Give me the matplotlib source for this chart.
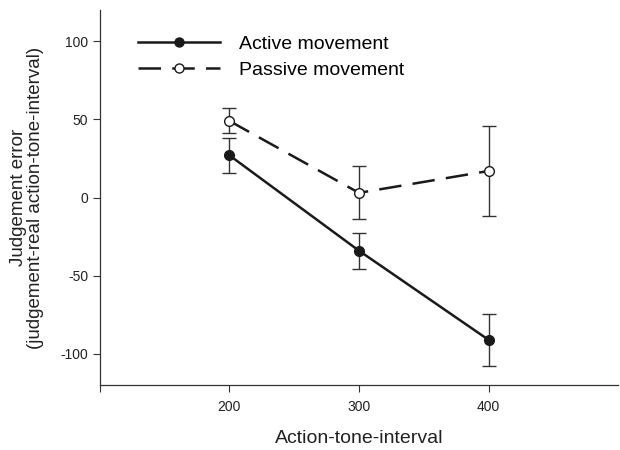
import matplotlib.pyplot as plt
from matplotlib.lines import Line2D

plt.rcParams['font.family'] = ['Liberation Sans', 'DejaVu Sans']
plt.rcParams['axes.unicode_minus'] = False

intervals = [200, 300, 400]
active_mean = [27, -34, -91]
active_err = [11, 11.5, 16.5]
passive_mean = [49, 3, 17]
passive_err = [8, 17, 29]

fig = plt.figure(figsize=(6.2, 4.5), dpi=100)
ax = fig.add_axes([0.161, 0.144, 0.836, 0.834])

ax.errorbar(intervals, active_mean, yerr=active_err, color='#1a1a1a', lw=1.8,
            marker='o', ms=7, mfc='#1a1a1a', mec='#1a1a1a',
            ecolor='#333333', elinewidth=1, capsize=5, capthick=1)
ax.errorbar(intervals, passive_mean, yerr=passive_err, color='#1a1a1a', lw=1.8,
            dashes=(9, 4.5), marker='o', ms=7, mfc='white', mec='#1a1a1a',
            ecolor='#333333', elinewidth=1, capsize=5, capthick=1)

ax.set_xlim(100, 500)
ax.set_ylim(-120, 120)
ax.set_xticks([100, 200, 300, 400])
ax.set_xticklabels(['', '200', '300', '400'])
ax.set_yticks([-100, -50, 0, 50, 100])
ax.tick_params(labelsize=10, length=5, width=0.8, color='#333333', labelcolor='#222222')
ax.tick_params(axis='x', pad=6)
for s in ['top', 'right']:
    ax.spines[s].set_visible(False)
for s in ['left', 'bottom']:
    ax.spines[s].set_linewidth(0.9)
    ax.spines[s].set_color('#333333')

ax.set_xlabel('Action-tone-interval', fontsize=14, labelpad=11, color='#222222')
ax.set_ylabel('Judgement error\n(judgement-real action-tone-interval)', fontsize=13.5,
              labelpad=12, color='#222222', linespacing=1.0)

handles = [
    Line2D([], [], color='#1a1a1a', lw=1.8, marker='o', ms=6.5, mfc='#1a1a1a', mec='#1a1a1a'),
    Line2D([], [], color='#1a1a1a', lw=1.8, dashes=(9, 4.5), marker='o', ms=6.5,
           mfc='white', mec='#1a1a1a'),
]
ax.legend(handles, ['Active movement', 'Passive movement'], loc='upper left',
          bbox_to_anchor=(0.04, 0.98), frameon=False, fontsize=14,
          handlelength=4.2, handletextpad=1.0, labelspacing=0.45)

fig.savefig('out.png', dpi=100)
